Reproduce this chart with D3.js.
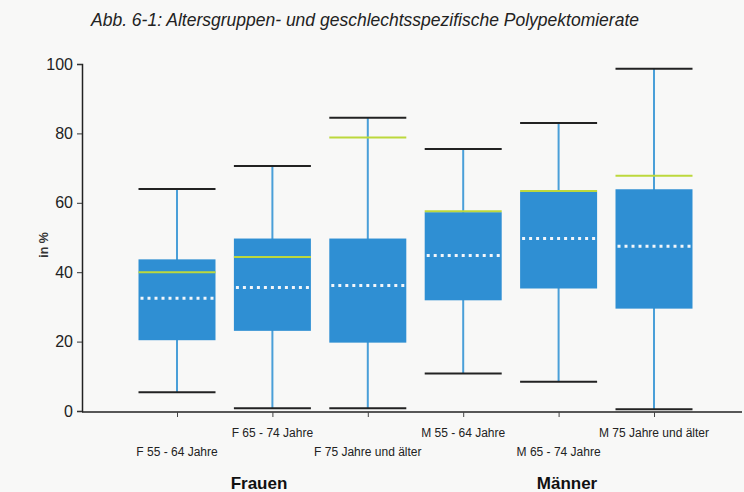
<!DOCTYPE html>
<html>
<head>
<meta charset="utf-8">
<script src="https://cdn.jsdelivr.net/npm/d3@7"></script>
<style>
  body { margin: 0; background: #f8f8f7; }
  text { font-family: "Liberation Sans", Arial, sans-serif; }
</style>
</head>
<body>
<script>
// Altersgruppen, Frauen und Männer
const categories = ["F 55 - 64 Jahre", "F 65 - 74 Jahre", "F 75 Jahre und älter",
                    "M 55 - 64 Jahre", "M 65 - 74 Jahre", "M 75 Jahre und älter"];
const whiskerHigh = [64, 70.6, 84.5, 75.5, 83.0, 98.6];
const q3          = [43.7, 49.7, 49.7, 57.3, 63.2, 63.9];
const greenLine   = [40.0, 44.4, 78.8, 57.6, 63.4, 67.8];
const median      = [32.5, 35.6, 36.2, 44.8, 49.7, 47.5];
const q1          = [20.4, 23.1, 19.7, 31.9, 35.3, 29.5];
const whiskerLow  = [5.4, 0.8, 0.8, 10.8, 8.4, 0.5];
const yTicks = [0, 20, 40, 60, 80, 100];
const groups = ["Frauen", "Männer"];

const W = 744, H = 492;
const svg = d3.select("body").append("svg").attr("width", W).attr("height", H);

const y = d3.scaleLinear().domain([0, 100]).range([411, 64]);
const x = d3.scalePoint().domain(categories).range([177, 654]);
const boxW = 77;

svg.append("text")
    .attr("x", 365).attr("y", 26)
    .attr("text-anchor", "middle")
    .style("font-style", "italic")
    .style("font-size", "17.5px")
    .attr("fill", "#222")
    .text("Abb. 6-1: Altersgruppen- und geschlechtsspezifische Polypektomierate");

// y axis
const yAxis = svg.append("g").attr("transform", "translate(82,0)")
    .call(d3.axisLeft(y).tickValues(yTicks).tickSize(5).tickPadding(4));
yAxis.select(".domain").attr("stroke", "#222").attr("stroke-width", 1.5);
yAxis.selectAll("line").attr("stroke", "#333");
yAxis.selectAll("text").style("font-size", "16px").attr("fill", "#222");

svg.append("text")
    .attr("transform", "translate(48,245) rotate(-90)")
    .attr("text-anchor", "middle")
    .style("font-size", "12.5px")
    .style("font-weight", "bold")
    .attr("fill", "#333")
    .text("in %");

// boxes
const g = svg.append("g");
categories.forEach((c, i) => {
  const cx = x(c);
  g.append("line").attr("x1", cx).attr("x2", cx)
      .attr("y1", y(whiskerHigh[i])).attr("y2", y(whiskerLow[i]))
      .attr("stroke", "#4a9fd8").attr("stroke-width", 2);
  g.append("rect")
      .attr("x", cx - boxW / 2).attr("width", boxW)
      .attr("y", y(q3[i])).attr("height", y(q1[i]) - y(q3[i]))
      .attr("fill", "#2f8fd3");
  [whiskerHigh[i], whiskerLow[i]].forEach(v => {
    g.append("line").attr("x1", cx - boxW / 2).attr("x2", cx + boxW / 2)
        .attr("y1", y(v)).attr("y2", y(v))
        .attr("stroke", "#222").attr("stroke-width", 2);
  });
  g.append("line").attr("x1", cx - boxW / 2).attr("x2", cx + boxW / 2)
      .attr("y1", y(greenLine[i])).attr("y2", y(greenLine[i]))
      .attr("stroke", "#bcd83c").attr("stroke-width", 2);
  g.append("line").attr("x1", cx - boxW / 2 + 2).attr("x2", cx + boxW / 2)
      .attr("y1", y(median[i])).attr("y2", y(median[i]))
      .attr("stroke", "#f2f6fa").attr("stroke-width", 3)
      .attr("stroke-dasharray", "3,4");
});

// x axis
const xAxis = svg.append("g").attr("transform", "translate(0,412)")
    .call(d3.axisBottom(x).tickSize(5).tickFormat(""));
xAxis.select(".domain").attr("d", "M82,0H742").attr("stroke", "#222").attr("stroke-width", 1.5);
xAxis.selectAll(".tick line").attr("stroke", "#444");

svg.append("g").selectAll("text").data(categories).join("text")
    .attr("x", d => x(d))
    .attr("y", (d, i) => i % 2 ? 437 : 456)
    .attr("text-anchor", "middle")
    .style("font-size", "12px")
    .attr("fill", "#222")
    .text(d => d);

svg.append("g").selectAll("text").data(groups).join("text")
    .attr("x", (d, i) => [259, 567][i])
    .attr("y", 489)
    .attr("text-anchor", "middle")
    .style("font-size", "17px")
    .style("font-weight", "bold")
    .attr("fill", "#111")
    .text(d => d);
</script>
</body>
</html>
